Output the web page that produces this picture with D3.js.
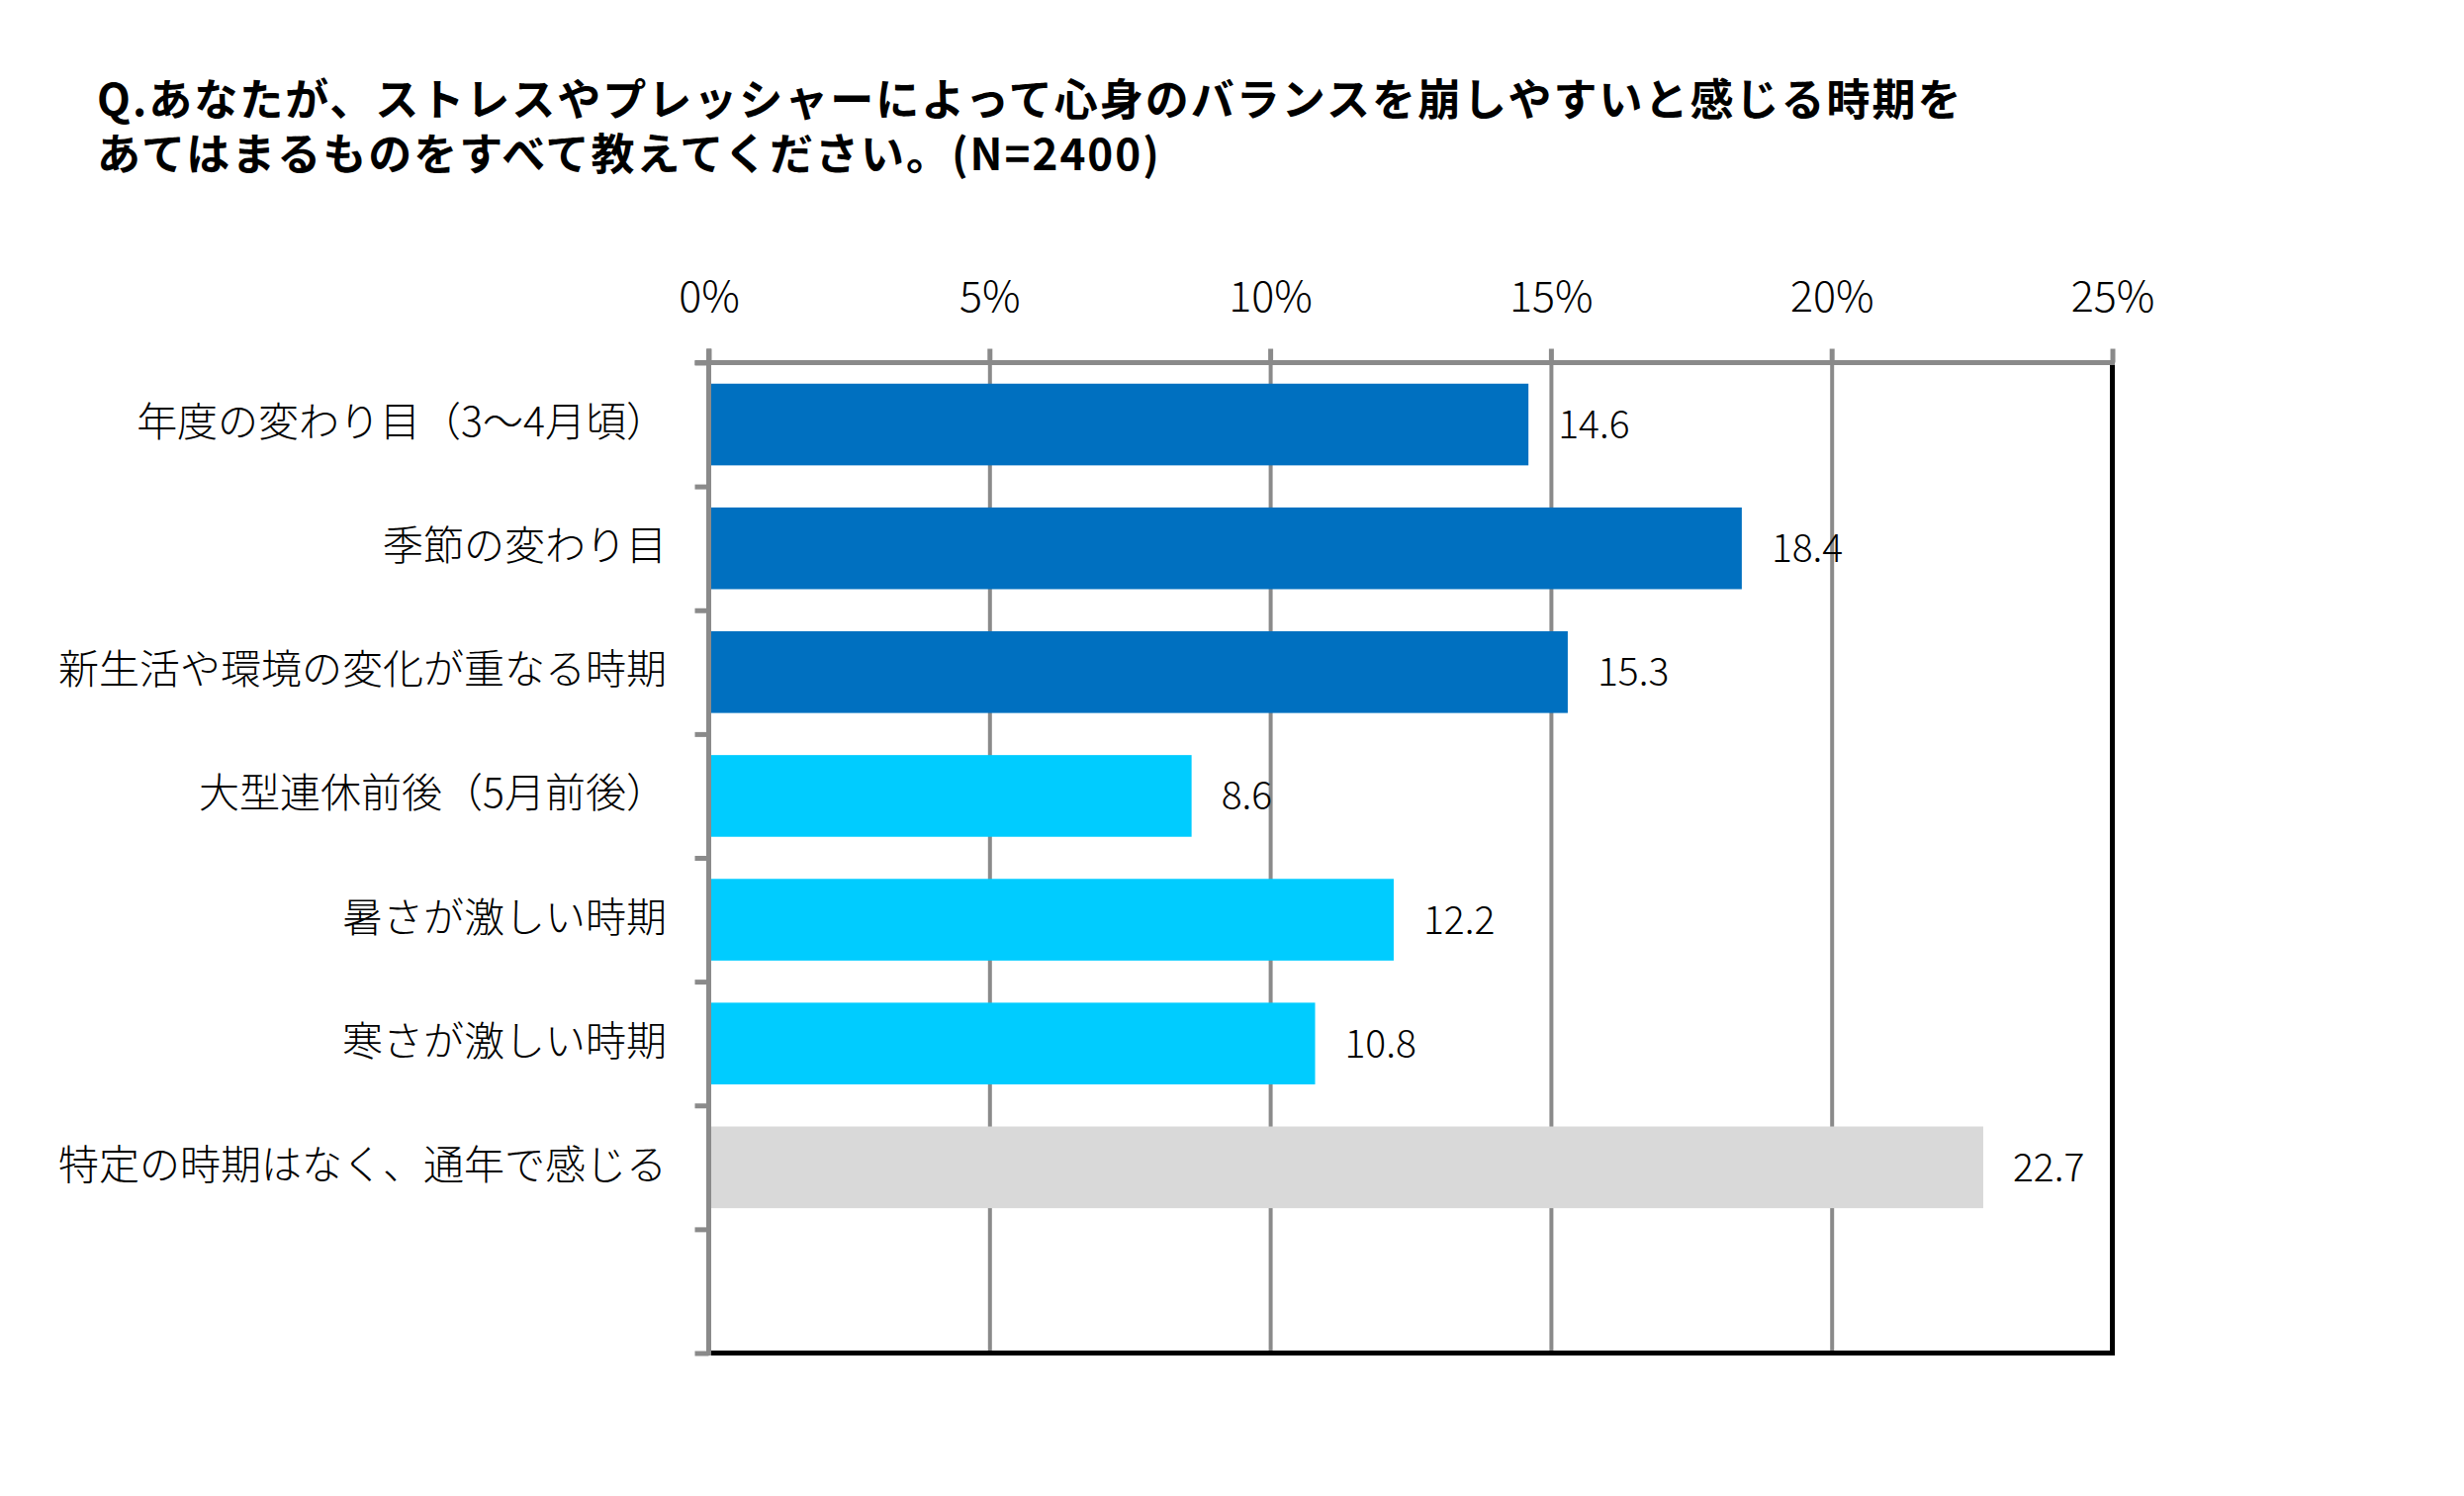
<!DOCTYPE html>
<html>
<head>
<meta charset="utf-8">
<script src="https://cdn.jsdelivr.net/npm/d3@7"></script>
<style>
  html, body { margin: 0; padding: 0; background: #ffffff; }
  svg { display: block; }
  text { font-family: "Noto Sans CJK JP", "Noto Sans", sans-serif; }
</style>
</head>
<body>
<script>
// ---- data ----
const titleLines = [
  "Q.あなたが、ストレスやプレッシャーによって心身のバランスを崩しやすいと感じる時期を",
  "あてはまるものをすべて教えてください。(N=2400)"
];
const categories = [
  "年度の変わり目（3～4月頃）",
  "季節の変わり目",
  "新生活や環境の変化が重なる時期",
  "大型連休前後（5月前後）",
  "暑さが激しい時期",
  "寒さが激しい時期",
  "特定の時期はなく、通年で感じる"
];
const values = [14.6, 18.4, 15.3, 8.6, 12.2, 10.8, 22.7];
const barColors = ["#0070C0", "#0070C0", "#0070C0", "#00CCFF", "#00CCFF", "#00CCFF", "#D9D9D9"];
const xTicks = [0, 5, 10, 15, 20, 25];
const xTickLabels = ["0%", "5%", "10%", "15%", "20%", "25%"];
const slotCount = 8; // 7 categories + one empty slot at the bottom

// ---- layout ----
const W = 2491, H = 1512;
const plotL = 716.5, plotR = 2135.5, plotT = 366.5, plotB = 1367.5;
const gray = "#8A8A8A";

const svg = d3.select("body").append("svg")
  .attr("width", W).attr("height", H)
  .attr("viewBox", `0 0 ${W} ${H}`);
svg.append("rect").attr("width", W).attr("height", H).attr("fill", "#ffffff");

// title (two separate lines)
svg.append("g").selectAll("text")
  .data(titleLines)
  .join("text")
  .attr("x", 98)
  .attr("y", (d, i) => 117 + i * 55)
  .attr("font-size", 44)
  .attr("font-weight", 700)
  .attr("letter-spacing", 2.0)
  .attr("fill", "#000")
  .text(d => d);

// scales
const x = d3.scaleLinear().domain([0, 25]).range([plotL, plotR]);
const y = d3.scaleBand()
  .domain(d3.range(slotCount))
  .range([plotT, plotB])
  .paddingInner(0.34)
  .paddingOuter(0.17);
const yEdges = d3.scaleLinear().domain([0, slotCount]).range([plotT, plotB]);

// vertical gridlines
svg.append("g")
  .attr("transform", `translate(0,${plotB})`)
  .call(d3.axisBottom(x).tickValues(xTicks.slice(1, -1)).tickSize(-(plotB - plotT)).tickFormat(""))
  .call(g => g.select(".domain").remove())
  .call(g => g.selectAll("line").attr("stroke", gray).attr("stroke-width", 4));

// bars
svg.append("g").selectAll("rect")
  .data(values)
  .join("rect")
  .attr("x", x(0))
  .attr("y", (d, i) => y(i))
  .attr("width", d => x(d) - x(0))
  .attr("height", y.bandwidth())
  .attr("fill", (d, i) => barColors[i]);

// value labels
svg.append("g").selectAll("text")
  .data(values)
  .join("text")
  .attr("x", d => x(d) + 30)
  .attr("y", (d, i) => y(i) + y.bandwidth() / 2 - 3)
  .attr("dominant-baseline", "central")
  .attr("font-size", 39)
  .attr("font-weight", 300)
  .attr("fill", "#000")
  .text(d => d.toFixed(1));

// plot border (right, bottom) in black
svg.append("path")
  .attr("d", `M${plotR},${plotT}V${plotB}H${plotL}`)
  .attr("fill", "none")
  .attr("stroke", "#000")
  .attr("stroke-width", 5)
  .attr("stroke-linejoin", "miter");

// top axis (gray) with labels
const xAxis = svg.append("g")
  .attr("transform", `translate(0,${plotT})`)
  .call(d3.axisTop(x).tickValues(xTicks).tickSize(14).tickSizeOuter(0).tickPadding(38)
    .tickFormat((d, i) => xTickLabels[i]));
xAxis.select(".domain")
  .attr("d", `M${plotL - 14},0H${plotR + 2.5}`)
  .attr("stroke", gray).attr("stroke-width", 5);
xAxis.selectAll(".tick line").attr("stroke", gray).attr("stroke-width", 5);
xAxis.selectAll(".tick text")
  .attr("font-family", "'Noto Sans CJK JP', 'Noto Sans', sans-serif")
  .attr("font-size", 43)
  .attr("font-weight", 300)
  .attr("fill", "#000");

// left axis (gray) with ticks at slot edges
const yAxis = svg.append("g")
  .attr("transform", `translate(${plotL},0)`)
  .call(d3.axisLeft(yEdges).tickValues(d3.range(slotCount + 1)).tickSize(14).tickSizeOuter(0).tickFormat(""));
yAxis.select(".domain")
  .attr("d", `M0,${plotT - 14}V${plotB + 2.5}`)
  .attr("stroke", gray).attr("stroke-width", 5);
yAxis.selectAll(".tick line").attr("stroke", gray).attr("stroke-width", 5);

// category labels
svg.append("g").selectAll("text")
  .data(categories)
  .join("text")
  .attr("x", 674)
  .attr("y", (d, i) => y(i) + y.bandwidth() / 2 - 6)
  .attr("text-anchor", "end")
  .attr("dominant-baseline", "central")
  .attr("font-size", 41)
  .attr("font-weight", 300)
  .attr("fill", "#000")
  .text(d => d);
</script>
</body>
</html>
